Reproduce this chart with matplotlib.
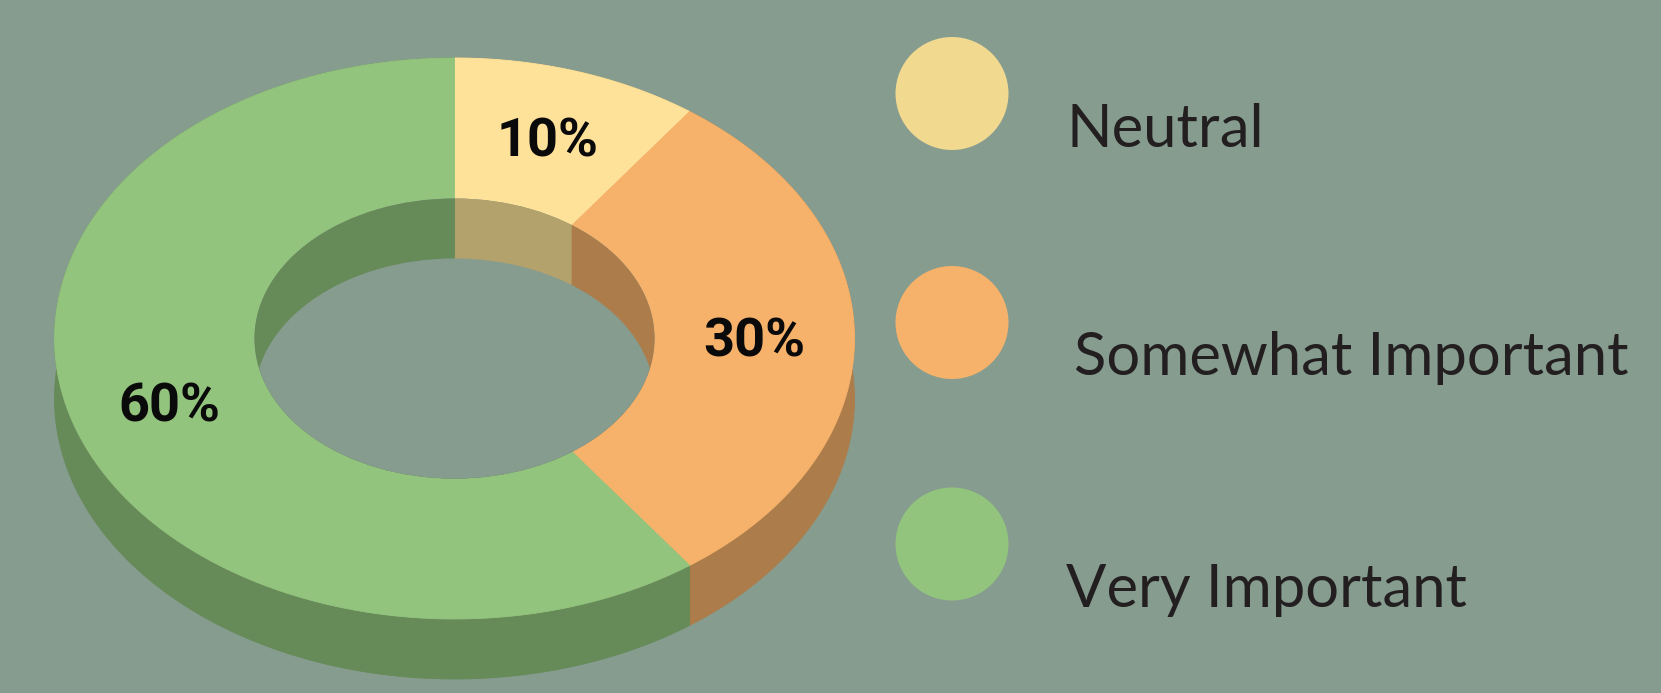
import numpy as np
import matplotlib
matplotlib.use("Agg")
import matplotlib.pyplot as plt
from matplotlib.patches import Ellipse

categories = ["Neutral", "Somewhat Important", "Very Important"]
values = [10, 30, 60]
pct_labels = ["10%", "30%", "60%"]

BG = "#869c8f"
TOP = ["#ffe299", "#f6b26b", "#93c47d"]
SIDE = ["#b4a26c", "#ac7d4a", "#668a58"]
LEG = ["#f1d98f", "#f6b26b", "#93c47d"]

# ring geometry, pixels
CX, CY = 454.5, 338.5
RX, RY = 400, 280.5
IRX, IRY = 200, 140
DEPTH = 60

W, H = 1661, 693
fig = plt.figure(figsize=(W / 100, H / 100), dpi=100, facecolor=BG)
ax = fig.add_axes([0, 0, 1, 1])
ax.set_xlim(0, W); ax.set_ylim(H, 0)
ax.axis("off")


def arc(t0, t1, rx, ry, dy=0):
    # angle runs clockwise from 12 o'clock
    t = np.linspace(t0, t1, 200)
    return CX + rx * np.sin(t), CY + dy - ry * np.cos(t)


edges = np.cumsum([0] + values) / sum(values) * 2 * np.pi
sectors = list(zip(edges[:-1], edges[1:]))

# ---- outer side ----
for (t0, t1), c in zip(sectors, SIDE):
    x1, y1 = arc(t0, t1, RX, RY)
    x2, y2 = arc(t1, t0, RX, RY, DEPTH)
    ax.fill(np.r_[x1, x2], np.r_[y1, y2], color=c, lw=0.6, zorder=1)

# ---- top face ----
for (t0, t1), c in zip(sectors, TOP):
    x1, y1 = arc(t0, t1, RX, RY)
    x2, y2 = arc(t1, t0, IRX, IRY)
    ax.fill(np.r_[x1, x2], np.r_[y1, y2], color=c, lw=0.6, zorder=2)

# ---- hole: inner wall, then background showing through ----
hole = Ellipse((CX, CY), 2 * IRX, 2 * IRY, fc=BG, ec="none", zorder=3)
ax.add_patch(hole)
for (t0, t1), c in zip(sectors, SIDE):
    x1, y1 = arc(t0, t1, IRX, IRY)
    x2, y2 = arc(t1, t0, IRX, IRY, DEPTH)
    for p in ax.fill(np.r_[x1, x2], np.r_[y1, y2], color=c, lw=0.6, zorder=4):
        p.set_clip_path(hole)
floor = Ellipse((CX, CY + DEPTH), 2 * IRX, 2 * IRY, fc=BG, ec="none", zorder=5)
ax.add_patch(floor)
floor.set_clip_path(hole)

# ---- percent labels ----
pct_xy = [(548, 142), (754, 342), (169, 407)]
for (x, y), s in zip(pct_xy, pct_labels):
    ax.text(x, y, s, fontsize=39, fontweight="bold", family="Roboto", color="#0a0a0a",
            ha="center", va="center", zorder=6)

# ---- legend ----
leg_cy = [93.5, 322.5, 544]
leg_text = [(1066, 147), (1074, 375), (1066, 607)]
for cy, c, (tx, ty), name in zip(leg_cy, LEG, leg_text, categories):
    ax.add_patch(Ellipse((952, cy), 113, 113, fc=c, ec="none", zorder=6))
    ax.text(tx, ty, name, fontsize=43, family="Lato", color="#231f20",
            ha="left", va="baseline", zorder=6)

fig.savefig("out.png", dpi=100, facecolor=BG)
